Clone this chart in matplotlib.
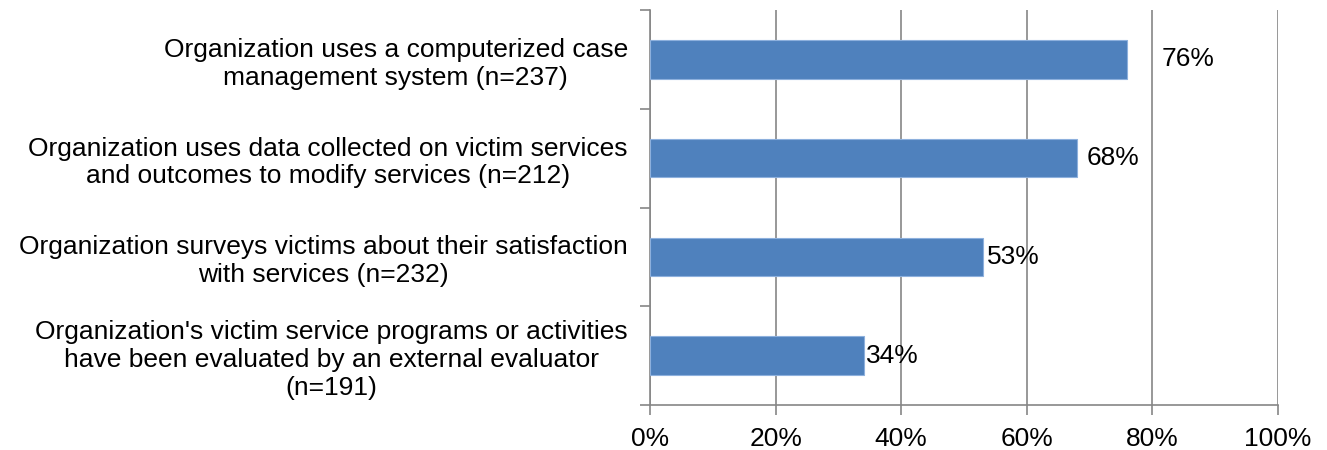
import matplotlib.pyplot as plt
from matplotlib.ticker import FixedLocator, PercentFormatter

plt.rcParams['font.family'] = ['Liberation Sans', 'DejaVu Sans']

categories = [
    "Organization uses a computerized case\nmanagement system (n=237)",
    "Organization uses data collected on victim services\nand outcomes to modify services (n=212)",
    "Organization surveys victims about their satisfaction\nwith services (n=232)",
    "Organization's victim service programs or activities\nhave been evaluated by an external evaluator\n(n=191)",
]
values = [76, 68, 53, 34]
x_ticks = [0, 20, 40, 60, 80, 100]

# label offsets in points (the 76% label sits clear of the 80% gridline)
label_offsets = [25, 7, 3, 2]

grey = '#868686'
fs = 19

fig = plt.figure(figsize=(13.27, 4.5), dpi=100)
ax = fig.add_axes([650 / 1327, 1 - 405 / 450, 628 / 1327, 395 / 450])

pos = list(range(len(categories)))
ax.barh(pos, values, height=0.39, color='#4F81BD', edgecolor='#8DB0DD',
        linewidth=0.8, zorder=3)

for p, v, off in zip(pos, values, label_offsets):
    ax.annotate(f"{v}%", xy=(v, p), xytext=(off, 0), textcoords='offset points',
                va='center', ha='left', fontsize=fs, zorder=4)

ax.set_xlim(0, 100)
ax.set_ylim(len(categories) - 0.5, -0.5)
ax.set_xticks(x_ticks)
ax.xaxis.set_major_formatter(PercentFormatter(decimals=0))
ax.grid(axis='x', color=grey, linewidth=1.2, zorder=0)

ax.set_yticks(pos)
ax.set_yticklabels(categories, ha='right', multialignment='center',
                   fontsize=fs, linespacing=1.2)
ax.yaxis.set_minor_locator(FixedLocator([p - 0.5 for p in pos] + [len(pos) - 0.5]))
ax.tick_params(axis='y', which='major', length=0, pad=16)
ax.tick_params(axis='y', which='minor', length=7, color=grey, width=1.2)
ax.tick_params(axis='x', length=7, color=grey, width=1.2, labelsize=fs, pad=9)

for side in ['top', 'right']:
    ax.spines[side].set_visible(False)
for side in ['left', 'bottom']:
    ax.spines[side].set_color(grey)
    ax.spines[side].set_linewidth(1.2)

fig.savefig('out.png', dpi=100)
